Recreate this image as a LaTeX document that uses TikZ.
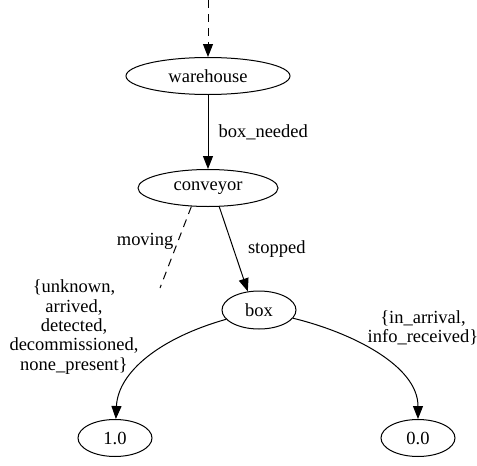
\documentclass[tikz,border=0pt]{standalone}
\usepackage{fontspec}
\setmainfont{Liberation Serif}
\usetikzlibrary{arrows.meta, shapes.geometric}

\begin{document}
\begin{tikzpicture}[x=1pt, y=-1pt, >={Triangle[length=13pt, width=10pt]},
    font=\fontsize{18.5}{19.4}\selectfont,
    state/.style={draw, ellipse, line width=1pt, inner sep=0pt, minimum height=37pt},
    edge/.style={->, line width=1pt},
    hint/.style={line width=1pt, dash pattern=on 8pt off 6pt},
    elabel/.style={inner sep=0pt, align=center}]

  \useasboundingbox (0,0) rectangle (477,466);

  \coordinate (init) at (208,0);
  \node[state, minimum width=164pt] (warehouse) at (208,76)  {warehouse};
  \node[state, minimum width=140pt] (conveyor)  at (208,188) {conveyor};
  \node[state, minimum width=74pt, minimum height=38pt] (box) at (259,310) {box};
  \node[state, minimum width=74pt]  (one)       at (115,438) {1.0};
  \node[state, minimum width=74pt]  (zero)      at (418,438) {0.0};
  \coordinate (moving) at (160,288);

  \draw[edge, hint] (init) -- (warehouse);
  \draw[edge] (warehouse) -- node[elabel, right=10pt] {box\_needed} (conveyor);
  \draw[hint] (conveyor.-132) -- node[elabel, left=4pt, pos=0.43] {moving} (moving);
  \draw[edge] (conveyor.-59) -- node[elabel, right=14pt] {stopped} (box.121);

  \draw[edge] (box) .. controls (160,338) and (118,372) .. (one);
  \draw[edge] (box) .. controls (350,332) and (418,365) .. (zero);

  \node[elabel] (lostset) at (74,327)
    {\{unknown,\\arrived,\\detected,\\decommissioned,\\none\_present\}};
  \node[elabel] (foundset) at (423,328) {\{in\_arrival,\\info\_received\}};

\end{tikzpicture}
\end{document}
